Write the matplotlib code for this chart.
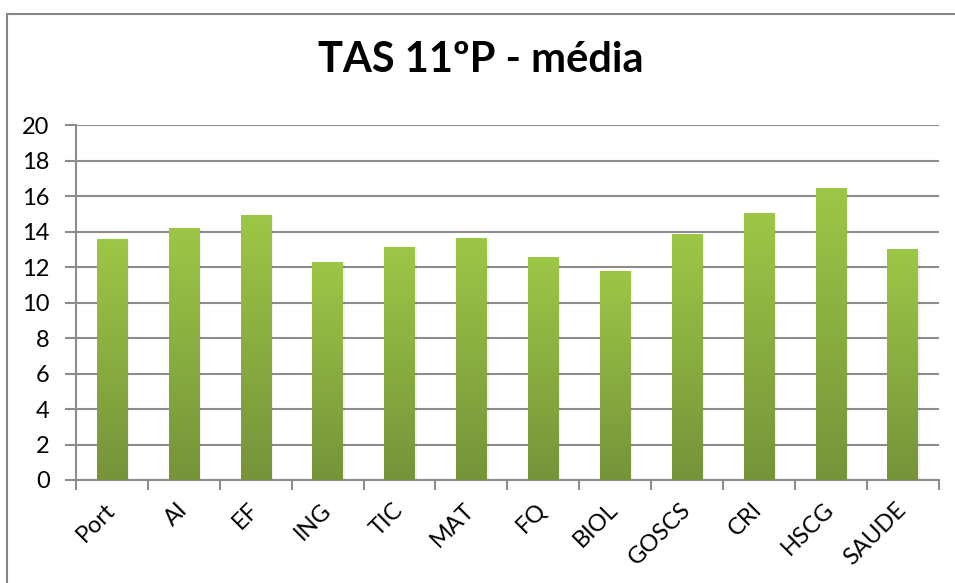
import matplotlib
matplotlib.use("Agg")
import matplotlib.pyplot as plt
import numpy as np
from matplotlib.colors import LinearSegmentedColormap
from matplotlib.patches import Rectangle

categories = ["Port", "AI", "EF", "ING", "TIC", "MAT", "FQ", "BIOL", "GOSCS", "CRI", "HSCG", "SAUDE"]
values = [13.55, 14.2, 14.95, 12.3, 13.15, 13.65, 12.55, 11.8, 13.85, 15.05, 16.45, 13.0]
yticks = [0, 2, 4, 6, 8, 10, 12, 14, 16, 18, 20]
title = "TAS 11ºP - média"

plt.rcParams['font.family'] = ['Lato', 'DejaVu Sans']

fig = plt.figure(figsize=(9.55, 5.83), dpi=100)
ax = fig.add_axes([76/955, 1-480/583, (938.5-76)/955, (480-125)/583])

x = np.arange(len(categories))
bars = ax.bar(x, values, width=0.42, color="#8cb043", zorder=3)

cmap = LinearSegmentedColormap.from_list("g", ["#76933a", "#9dc747"])
grad = np.linspace(0, 1, 256).reshape(-1, 1)
for b in bars:
    x0, y0 = b.get_x(), b.get_y()
    w, h = b.get_width(), b.get_height()
    im = ax.imshow(grad, cmap=cmap, aspect='auto', origin='lower',
                   extent=[x0, x0 + w, y0, y0 + h], zorder=4)
    im.set_clip_path(b)
    ax.add_patch(Rectangle((x0 + 0.03, y0), w, h - 0.05, facecolor="#000000",
                           alpha=0.06, edgecolor='none', zorder=2))

ax.set_xlim(-0.5, len(categories) - 0.5)
ax.set_ylim(0, 20)
ax.set_yticks(yticks)
ax.set_yticklabels([str(t) for t in yticks], fontsize=17)
ax.yaxis.grid(True, color="#8c8c8c", linewidth=1.5, zorder=0)
ax.set_axisbelow(True)

ax.set_xticks(x)
ax.set_xticklabels(categories, fontsize=17, rotation=45, ha='right',
                   va='center', rotation_mode='anchor')
ax.tick_params(axis='x', length=0, pad=19)
ax.set_xticks(np.arange(len(categories) + 1) - 0.5, minor=True)
ax.tick_params(axis='x', which='minor', length=7, width=1.5, color="#8c8c8c", direction='out')
ax.tick_params(axis='y', length=8, width=1.5, color="#8c8c8c", pad=11)

for s in ['top', 'right']:
    ax.spines[s].set_visible(False)
for s in ['left', 'bottom']:
    ax.spines[s].set_color("#8c8c8c")
    ax.spines[s].set_linewidth(1.5)

fig.text(481/955, 1-60/583, title, ha='center', va='center', fontsize=30,
         fontweight='bold')

fig.patches.append(Rectangle((7/955, -0.1), 1.1, 1.1 - 14/583,
                             transform=fig.transFigure, fill=False,
                             edgecolor="#868686", linewidth=1.5, zorder=10))

fig.savefig("out.png", dpi=100)
